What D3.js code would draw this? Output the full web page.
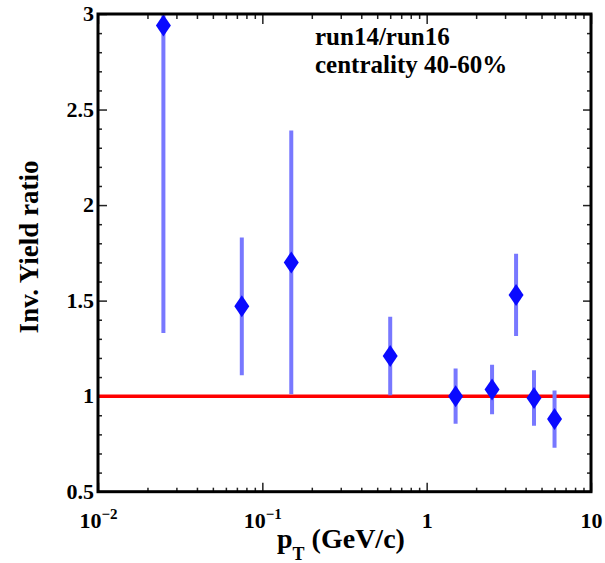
<!DOCTYPE html>
<html>
<head>
<meta charset="utf-8">
<script src="https://cdn.jsdelivr.net/npm/d3@7"></script>
<style>
  body { margin: 0; background: #fff; }
</style>
</head>
<body>
<svg id="chart" width="605" height="563"></svg>
<script>
// data
const pt = [0.025, 0.075, 0.15, 0.6, 1.5, 2.5, 3.5, 4.5, 6];
const ratio = [2.94, 1.47, 1.70, 1.21, 1.00, 1.035, 1.53, 0.99, 0.88];
const ratioErr = [1.61, 0.36, 0.69, 0.205, 0.145, 0.13, 0.215, 0.145, 0.15];
const refLevel = 1;

const yTicks = [0.5, 1, 1.5, 2, 2.5, 3];
const yTickLabels = ["0.5", "1", "1.5", "2", "2.5", "3"];
const xTicks = [0.01, 0.1, 1, 10];
const xTickBase = ["10", "10", "1", "10"];
const xTickExp = ["\u22122", "\u22121", "", ""];
const legendLines = ["run14/run16", "centrality 40-60%"];

const SERIF = '"Liberation Serif", "Times New Roman", serif';

const svg = d3.select("#chart")
  .style("font-family", SERIF).style("font-weight", "bold");
const padL = 98, padR = 591, padT = 14, padB = 491.7;

const x = d3.scaleLog().domain([0.01, 10]).range([padL, padR]);
const y = d3.scaleLinear().domain([0.5, 3]).range([padB, padT]);

// minor ticks: 2..9 of every decade, 0.1 steps on y
const xMinor = [];
[0.01, 0.1, 1].forEach(d => { for (let k = 2; k <= 9; k++) xMinor.push(d * k); });
const yMinor = d3.range(5, 31).map(v => v / 10).filter(v => !yTicks.includes(v));

function tickStyle(g) {
  g.attr("font-family", null).attr("font-size", null);
  g.select(".domain").remove();
  g.selectAll(".tick line").attr("stroke", "#222").attr("stroke-width", 1.5);
}

// bottom / top
svg.append("g").attr("transform", `translate(0,${padB})`)
  .call(d3.axisBottom(x).tickValues(xMinor).tickSize(-4).tickFormat(""))
  .call(tickStyle);
const xAx = svg.append("g").attr("transform", `translate(0,${padB})`)
  .call(d3.axisBottom(x).tickValues(xTicks).tickSize(-9).tickFormat((d, i) => xTickBase[i]))
  .call(tickStyle);
svg.append("g").attr("transform", `translate(0,${padT})`)
  .call(d3.axisTop(x).tickValues(xMinor).tickSize(-5).tickFormat(""))
  .call(tickStyle);
svg.append("g").attr("transform", `translate(0,${padT})`)
  .call(d3.axisTop(x).tickValues(xTicks).tickSize(-10).tickFormat(""))
  .call(tickStyle);

xAx.selectAll(".tick text")
  .attr("y", 36).attr("dy", null)
  .attr("fill", "#000")
  .style("font-family", SERIF).style("font-weight", "bold").style("font-size", "22px")
  .each(function (d, i) {
    if (xTickExp[i]) {
      d3.select(this).append("tspan")
        .style("font-size", "15px").attr("dy", -9)
        .text(xTickExp[i]);
    }
  });

// left / right
svg.append("g").attr("transform", `translate(${padL},0)`)
  .call(d3.axisLeft(y).tickValues(yMinor).tickSize(-4).tickFormat(""))
  .call(tickStyle);
const yAx = svg.append("g").attr("transform", `translate(${padL},0)`)
  .call(d3.axisLeft(y).tickValues(yTicks).tickSize(-9).tickFormat((d, i) => yTickLabels[i]))
  .call(tickStyle);
svg.append("g").attr("transform", `translate(${padR},0)`)
  .call(d3.axisRight(y).tickValues(yMinor).tickSize(-4).tickFormat(""))
  .call(tickStyle);
svg.append("g").attr("transform", `translate(${padR},0)`)
  .call(d3.axisRight(y).tickValues(yTicks).tickSize(-8).tickFormat(""))
  .call(tickStyle);

yAx.selectAll(".tick text")
  .attr("x", -4).attr("dy", "0.3em")
  .attr("fill", "#000")
  .style("font-family", SERIF).style("font-weight", "bold").style("font-size", "22px");

// clip to frame
svg.append("clipPath").attr("id", "frame")
  .append("rect").attr("x", padL).attr("y", padT)
  .attr("width", padR - padL).attr("height", padB - padT);

const plot = svg.append("g").attr("clip-path", "url(#frame)");

// reference line
plot.append("line")
  .attr("x1", x(0.01)).attr("x2", x(10))
  .attr("y1", y(refLevel)).attr("y2", y(refLevel))
  .attr("stroke", "#ff0000").attr("stroke-width", 3.5);

// error bars
plot.selectAll("line.err").data(pt).join("line")
  .attr("class", "err")
  .attr("x1", d => x(d)).attr("x2", d => x(d))
  .attr("y1", (d, i) => y(ratio[i] - ratioErr[i]))
  .attr("y2", (d, i) => y(ratio[i] + ratioErr[i]))
  .attr("stroke", "#7878ff").attr("stroke-width", 4);

// diamond markers
const hw = 7.5, hh = 11;
plot.selectAll("path.pt").data(pt).join("path")
  .attr("class", "pt")
  .attr("d", (d, i) => {
    const cx = x(d), cy = y(ratio[i]);
    return `M${cx},${cy - hh}L${cx + hw},${cy}L${cx},${cy + hh}L${cx - hw},${cy}Z`;
  })
  .attr("fill", "#0a0aff");

// frame
svg.append("rect")
  .attr("x", padL).attr("y", padT)
  .attr("width", padR - padL).attr("height", padB - padT)
  .attr("fill", "none").attr("stroke", "#000").attr("stroke-width", 3);

// axis titles
const xt = svg.append("text")
  .attr("x", 277).attr("y", 548)
  .style("font-size", "28px");
xt.append("tspan").text("p");
xt.append("tspan").style("font-size", "18px").attr("dy", 12).text("T");
xt.append("tspan").attr("dy", -12).text(" (GeV/c)");

svg.append("text")
  .attr("transform", "translate(38,247) rotate(-90)")
  .attr("text-anchor", "middle")
  .style("font-size", "27px")
  .text("Inv. Yield ratio");

// legend text
svg.selectAll("text.leg").data(legendLines).join("text")
  .attr("class", "leg")
  .attr("x", 315)
  .attr("y", (d, i) => 45 + i * 28)
  .style("font-size", "25px")
  .text(d => d);
</script>
</body>
</html>
